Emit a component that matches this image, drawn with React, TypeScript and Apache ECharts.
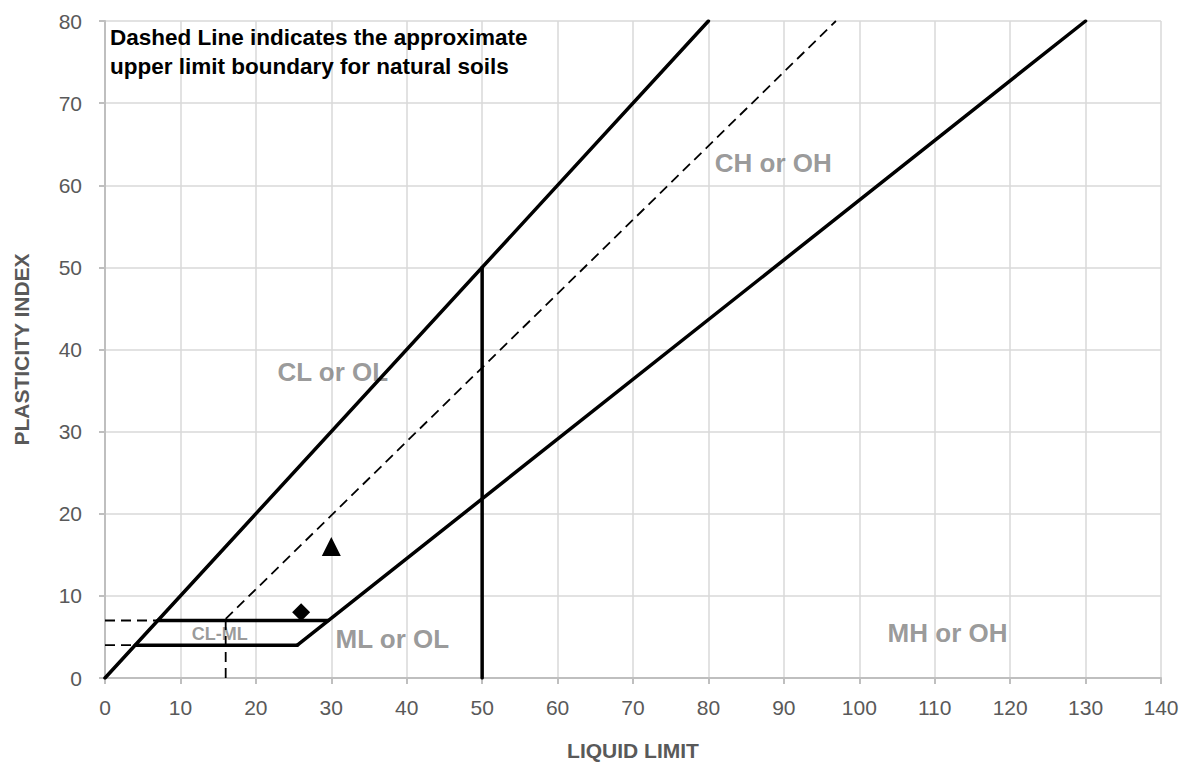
import React, { useEffect, useRef } from 'react';
import * as echarts from 'echarts';

// Axis ranges / ticks
const xMin = 0;
const xMax = 140;
const xStep = 10;
const yMin = 0;
const yMax = 80;
const yStep = 10;

// Boundary lines (liquid limit, plasticity index)
const equalityLine = [[0, 0], [80, 80]]; // PI = LL
const aLine = [[25.5, 4], [130, 80]]; // PI = 0.73 (LL - 20)
const clmlTop = [[7, 7], [29.6, 7]];
const clmlBottom = [[4, 4], [25.5, 4]];
const llFifty = [[50, 0], [50, 50]];

// Dashed lines
const uLine = [[16, 7.2], [96.9, 80]]; // PI = 0.9 (LL - 8)
const uLineBase = [[16, 0], [16, 7]];
const guide7 = [[0, 7], [7, 7]];
const guide4 = [[0, 4], [4, 4]];

// Samples
const sampleTriangle = [[30, 16]];
const sampleDiamond = [[26, 8]];

// Zone labels
const zoneNames = ['CL or OL', 'CH or OH', 'ML or OL', 'MH or OH'];
const zoneLL = [30.2, 88.6, 38.1, 111.7];
const zonePI = [37.2, 62.7, 4.8, 5.5];
const smallZoneNames = ['CL-ML'];
const smallZoneLL = [15.2];
const smallZonePI = [5.35];

const titleText = 'Dashed Line indicates the approximate\nupper limit boundary for natural soils';

const FONT = '"Liberation Sans", Arial, sans-serif';

export default function App() {
  const ref = useRef<HTMLDivElement>(null);

  useEffect(() => {
    if (!ref.current) return;
    const chart = echarts.init(ref.current, undefined, { renderer: 'svg' });

    const solid = (data: number[][]) => ({
      type: 'line',
      data,
      symbol: 'none',
      silent: true,
      lineStyle: { color: '#000', width: 3.5, type: 'solid', cap: 'round' },
    });
    const dashed = (data: number[][]) => ({
      type: 'line',
      data,
      symbol: 'none',
      silent: true,
      lineStyle: { color: '#000', width: 1.8, type: [10, 6] },
    });

    const option: any = {
      animation: false,
      textStyle: { fontFamily: FONT },
      title: {
        text: titleText,
        left: 110,
        top: 23,
        padding: 0,
        textStyle: { fontFamily: FONT, fontSize: 22.5, fontWeight: 'bold', color: '#000', lineHeight: 29 },
      },
      grid: { left: 105, right: 28, top: 21, bottom: 89, containLabel: false },
      xAxis: {
        type: 'value',
        min: xMin,
        max: xMax,
        interval: xStep,
        name: 'LIQUID LIMIT',
        nameLocation: 'middle',
        nameGap: 62,
        nameTextStyle: { fontFamily: FONT, fontSize: 21, fontWeight: 'bold', color: '#595959' },
        axisLine: { show: true, lineStyle: { color: '#bfbfbf', width: 2 } },
        axisTick: { show: true, length: 6, lineStyle: { color: '#bfbfbf', width: 2 } },
        axisLabel: { fontFamily: FONT, fontSize: 21, color: '#595959', margin: 19 },
        splitLine: { show: true, lineStyle: { color: '#d9d9d9', width: 1.5 } },
      },
      yAxis: {
        type: 'value',
        min: yMin,
        max: yMax,
        interval: yStep,
        name: 'PLASTICITY INDEX',
        nameLocation: 'middle',
        nameGap: 73,
        nameRotate: 90,
        nameTextStyle: { fontFamily: FONT, fontSize: 21, fontWeight: 'bold', color: '#595959' },
        axisLine: { show: true, lineStyle: { color: '#bfbfbf', width: 2 } },
        axisTick: { show: true, length: 6, lineStyle: { color: '#bfbfbf', width: 2 } },
        axisLabel: { fontFamily: FONT, fontSize: 21, color: '#595959', margin: 23 },
        splitLine: { show: true, lineStyle: { color: '#d9d9d9', width: 1.5 } },
      },
      series: [
        {
          type: 'scatter',
          silent: true,
          symbolSize: 1,
          itemStyle: { color: 'rgba(0,0,0,0)' },
          data: zoneNames.map((n, i) => ({ name: n, value: [zoneLL[i], zonePI[i]] })),
          label: {
            show: true,
            position: 'inside',
            formatter: (p: any) => p.name,
            fontFamily: FONT,
            fontSize: 26,
            fontWeight: 'bold',
            color: '#7f7f7f',
          },
        },
        {
          type: 'scatter',
          silent: true,
          symbolSize: 1,
          itemStyle: { color: 'rgba(0,0,0,0)' },
          data: smallZoneNames.map((n, i) => ({ name: n, value: [smallZoneLL[i], smallZonePI[i]] })),
          label: {
            show: true,
            position: 'inside',
            formatter: (p: any) => p.name,
            fontFamily: FONT,
            fontSize: 18,
            fontWeight: 'bold',
            color: '#7f7f7f',
          },
        },
        dashed(uLine),
        dashed(uLineBase),
        dashed(guide7),
        dashed(guide4),
        solid(equalityLine),
        solid(aLine),
        solid(clmlTop),
        solid(clmlBottom),
        solid(llFifty),
        {
          type: 'scatter',
          silent: true,
          symbol: 'triangle',
          symbolSize: 19,
          itemStyle: { color: '#000', opacity: 1 },
          data: sampleTriangle,
        },
        {
          type: 'scatter',
          silent: true,
          symbol: 'diamond',
          symbolSize: 18,
          itemStyle: { color: '#000', opacity: 1 },
          data: sampleDiamond,
        },
      ],
    };

    chart.setOption(option);
    return () => chart.dispose();
  }, []);

  return (
    <div
      ref={ref}
      style={{ position: 'fixed', left: 0, top: 0, width: 1189, height: 767, background: '#fff' }}
    />
  );
}
